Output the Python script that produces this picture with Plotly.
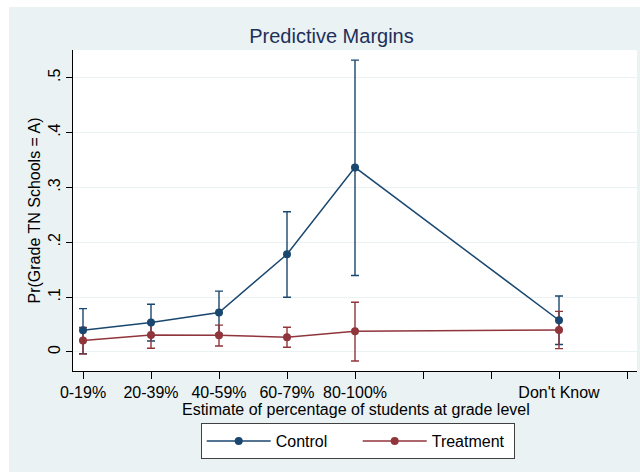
import plotly.graph_objects as go

# ---- data ----
categories = ["0-19%", "20-39%", "40-59%", "60-79%", "80-100%", "Don't Know"]
x_pos = [1, 2, 3, 4, 5, 8]
tick_vals = [1, 2, 3, 4, 5, 6, 7, 8, 9]
tick_text = ["0-19%", "20-39%", "40-59%", "60-79%", "80-100%", "", "", "Don't Know", ""]

control_mean = [0.0396, 0.0536, 0.072, 0.178, 0.3365, 0.0578]
control_lo = [-0.003, 0.020, 0.033, 0.0998, 0.1394, 0.0135]
control_hi = [0.079, 0.087, 0.111, 0.2555, 0.532, 0.102]

treat_mean = [0.0208, 0.031, 0.0305, 0.0268, 0.0378, 0.040]
treat_lo = [-0.004, 0.0067, 0.011, 0.0086, -0.0164, 0.006]
treat_hi = [0.0445, 0.055, 0.049, 0.045, 0.0907, 0.074]

y_ticks = [0, 0.1, 0.2, 0.3, 0.4, 0.5]
y_ticktext = ["0", ".1", ".2", ".3", ".4", ".5"]

x_title = "Estimate of percentage of students at grade level"
y_title = "Pr(Grade TN Schools = A)"
chart_title = "Predictive Margins"

NAVY = "#1a476f"
MAROON = "#90353b"
BG = "#eaf2f3"
FONT = "Liberation Sans, Arial, sans-serif"

fig = go.Figure()

def ci_trace(mean, lo, hi, color):
    return go.Scatter(
        x=x_pos, y=mean, mode="markers",
        marker=dict(size=1, color="rgba(0,0,0,0)"),
        error_y=dict(type="data", symmetric=False,
                     array=[h - m for h, m in zip(hi, mean)],
                     arrayminus=[m - l for m, l in zip(mean, lo)],
                     color=color, thickness=1.4, width=4),
        showlegend=False, hoverinfo="skip")

fig.add_trace(ci_trace(control_mean, control_lo, control_hi, NAVY))
fig.add_trace(ci_trace(treat_mean, treat_lo, treat_hi, MAROON))

fig.add_trace(go.Scatter(x=x_pos, y=control_mean, mode="lines+markers", name="Control",
                         line=dict(color=NAVY, width=1.5),
                         marker=dict(size=8, color=NAVY)))
fig.add_trace(go.Scatter(x=x_pos, y=treat_mean, mode="lines+markers", name="Treatment",
                         line=dict(color=MAROON, width=1.5),
                         marker=dict(size=8, color=MAROON)))

L, R, T, B = 73, 3, 50, 101
W, H = 640, 472
pw, ph = W - L - R, H - T - B

# white strip on left and top (outer graph region offset)
fig.add_shape(type="rect", xref="paper", yref="paper",
              x0=-L / pw, x1=-(L - 9) / pw, y0=-B / ph, y1=1 + T / ph,
              fillcolor="white", line=dict(width=0), layer="above")
fig.add_shape(type="rect", xref="paper", yref="paper",
              x0=-L / pw, x1=1 + R / pw, y0=1 + (T - 7) / ph, y1=1 + T / ph,
              fillcolor="white", line=dict(width=0), layer="above")

# x-axis title placed as annotation (tight spacing like the reference)
fig.add_annotation(text=x_title, xref="paper", yref="paper",
                   x=(355.5 - L) / pw, y=-(410 - (H - B)) / ph,
                   xanchor="center", yanchor="middle", showarrow=False,
                   font=dict(size=16, color="black"))

fig.update_layout(
    width=W, height=H,
    margin=dict(l=L, r=R, t=T, b=B, autoexpand=False),
    paper_bgcolor=BG, plot_bgcolor="white",
    font=dict(family=FONT, size=16, color="black"),
    title=dict(text=chart_title, x=331.5 / W, xanchor="center",
               y=1 - 36 / H, yanchor="middle", yref="container",
               font=dict(size=20, color="#1e2f5a")),
    xaxis=dict(range=[0.853, 9.147], tickmode="array", tickvals=tick_vals, ticktext=tick_text,
               showgrid=False, zeroline=False, showline=True, linecolor="black", linewidth=1,
               ticks="outside", ticklen=7, tickcolor="black", tickwidth=1,
               tickfont=dict(size=16)),
    yaxis=dict(range=[-0.0347, 0.5505], tickmode="array", tickvals=y_ticks, ticktext=y_ticktext,
               tickangle=-90, showgrid=True, gridcolor=BG, gridwidth=1.2, zeroline=False,
               showline=True, linecolor="black", linewidth=1,
               ticks="outside", ticklen=6, tickcolor="black", tickwidth=1,
               ticklabelstandoff=0, tickfont=dict(size=16),
               title=dict(text=y_title, standoff=0, font=dict(size=16))),
    legend=dict(orientation="h", x=(200.7 - L) / pw, xanchor="left",
                y=-(423 - (H - B)) / ph, yanchor="top",
                bgcolor="white", bordercolor="#404040", borderwidth=1,
                font=dict(size=16), itemwidth=64, entrywidth=77),
    showlegend=True,
)

fig.write_html("out.html")
